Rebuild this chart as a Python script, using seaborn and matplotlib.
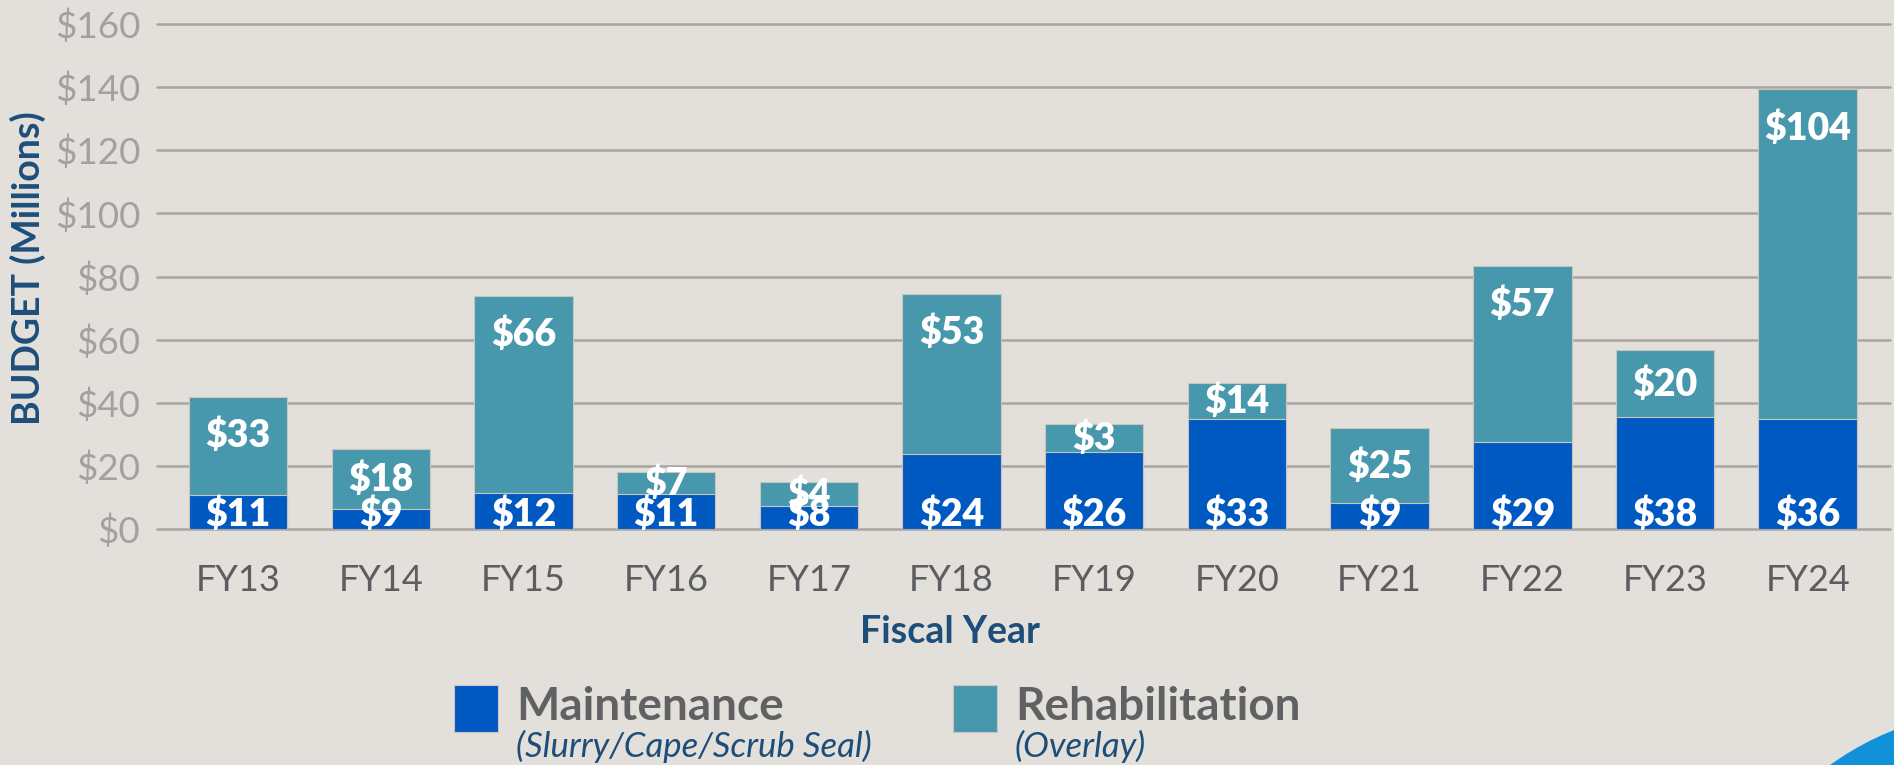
#!/usr/bin/env python3
"""
Pavement budget by fiscal year: maintenance vs rehabilitation, stacked bars.
"""

import matplotlib

matplotlib.use("Agg")
import matplotlib.pyplot as plt
import pandas as pd
import seaborn as sns
from matplotlib.patches import Circle, Rectangle

# bar heights as drawn ($M)
years = ["FY13", "FY14", "FY15", "FY16", "FY17", "FY18",
         "FY19", "FY20", "FY21", "FY22", "FY23", "FY24"]
maintenance = [10.9, 6.2, 11.5, 11.2, 7.4, 23.8, 24.3, 35.0, 8.2, 27.5, 35.4, 35.0]
rehabilitation = [31.0, 19.1, 62.4, 6.8, 7.5, 50.8, 9.1, 11.4, 23.7, 55.9, 21.3, 104.4]

# printed value labels
maint_labels = ["$11", "$9", "$12", "$11", "$8", "$24", "$26", "$33", "$9", "$29", "$38", "$36"]
rehab_labels = ["$33", "$18", "$66", "$7", "$4", "$53", "$3", "$14", "$25", "$57", "$20", "$104"]

y_ticks = [0, 20, 40, 60, 80, 100, 120, 140, 160]

MAINT_COLOR = "#0059c1"
REHAB_COLOR = "#4898ad"
BG = "#e3dfda"
GRID = "#a9a5a1"
NAVY = "#1d4e7a"

sns.set_theme(style="whitegrid")
plt.rcParams["font.family"] = ["Lato", "DejaVu Sans"]

df = pd.DataFrame({"year": years, "maint": maintenance, "rehab": rehabilitation})
df["total"] = df["maint"] + df["rehab"]

W, H = 1894, 765
fig = plt.figure(figsize=(W / 100, H / 100), dpi=100, facecolor=BG)
ax = fig.add_axes([157 / W, 1 - 529 / H, (1890 - 157) / W, (529 - 24) / H])
ax.set_facecolor(BG)

sns.barplot(data=df, x="year", y="total", order=years, color=REHAB_COLOR,
            width=0.69, saturation=1, edgecolor="#c9c4be", linewidth=0.8, ax=ax)
sns.barplot(data=df, x="year", y="maint", order=years, color=MAINT_COLOR,
            width=0.69, saturation=1, edgecolor="#c9c4be", linewidth=0.8, ax=ax)

for i, row in df.iterrows():
    ax.text(i, 0.8, maint_labels[i], ha="center", va="baseline", color="white",
            fontsize=27, fontweight="heavy")
    y_lab = max(row["maint"] + row["rehab"] / 2 - 3.8, row["total"] - 16.0)
    ax.text(i, y_lab, rehab_labels[i], ha="center", va="baseline", color="white",
            fontsize=27, fontweight="heavy")

ax.set_xlim(-0.568, 11.577)
ax.set_ylim(0, 160)
ax.set_yticks(y_ticks)
ax.set_yticklabels([f"${v}" for v in y_ticks])
ax.tick_params(axis="y", labelsize=26.5, labelcolor="#a4a09d", length=0, pad=12)
ax.tick_params(axis="x", labelsize=26, labelcolor="#5b5d60", length=0, pad=25)
ax.set_axisbelow(True)
ax.grid(axis="y", color=GRID, linewidth=1.8)
ax.grid(axis="x", visible=False)
for line in ax.get_ygridlines():
    line.set_clip_on(False)
for s in ax.spines.values():
    s.set_visible(False)

ax.set_xlabel("")
ax.set_ylabel("")
fig.text(28 / W, 1 - 268 / H, "BUDGET (Millions)", rotation=90, ha="center",
         va="center", fontsize=27, fontweight="bold", color=NAVY)
fig.text(950 / W, 1 - 643 / H, "Fiscal Year", ha="center", va="baseline",
         fontsize=27, fontweight="bold", color=NAVY)

# legend
for x0, title, sub, col in [(454, "Maintenance", "(Slurry/Cape/Scrub Seal)", MAINT_COLOR),
                            (953, "Rehabilitation", "(Overlay)", REHAB_COLOR)]:
    fig.patches.append(Rectangle((x0 / W, 1 - 732 / H), 44 / W, 47 / H,
                                 transform=fig.transFigure, facecolor=col,
                                 edgecolor="#c9c4be", linewidth=0.8))
    fig.text((x0 + 62) / W, 1 - 720 / H, title, ha="left", va="baseline",
             fontsize=33, fontweight="bold", color="#606163")
    fig.text((x0 + 62) / W, 1 - 757 / H, sub, ha="left", va="baseline",
             fontsize=25, style="italic", color=NAVY)

# corner swoosh
fig.patches.append(Circle((20.0, -2.35), 2.9, transform=fig.dpi_scale_trans,
                          facecolor="#1191d8", edgecolor="none"))

fig.savefig("out.png", dpi=100, facecolor=BG)
